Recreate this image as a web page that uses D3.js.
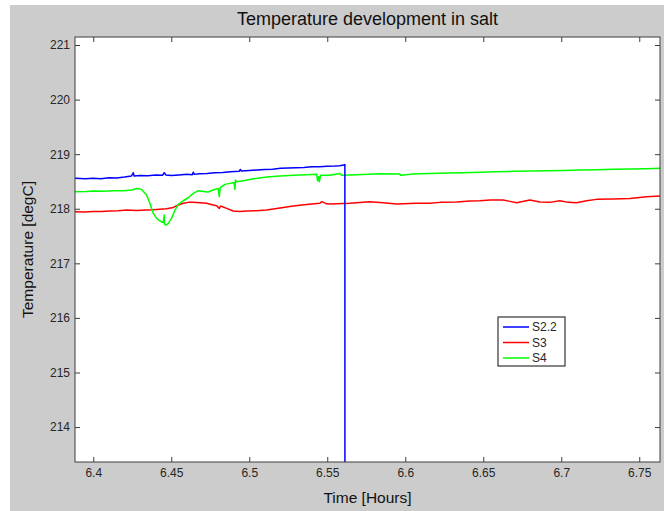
<!DOCTYPE html>
<html>
<head>
<meta charset="utf-8">
<script src="https://cdn.jsdelivr.net/npm/d3@7/dist/d3.min.js"></script>
<style>
  html, body { margin: 0; padding: 0; background: #ffffff; }
  svg { display: block; }
  text { font-family: "Liberation Sans", Arial, sans-serif; }
</style>
</head>
<body>
<svg id="chart" width="664" height="511"></svg>
<script>
// ---- data -------------------------------------------------------------
const seriesNames = ["S2.2", "S3", "S4"];
const seriesColors = ["#0000ff", "#ff0000", "#00ff00"];

// S2.2: logging stops at ~6.561 h, last sample falls off-scale
const timeS22 = [6.388, 6.395, 6.400, 6.405, 6.410, 6.415, 6.420, 6.4245, 6.4256, 6.4262,
  6.430, 6.435, 6.440, 6.4445, 6.4455, 6.4465, 6.450, 6.455, 6.460, 6.4635, 6.4641, 6.4648,
  6.468, 6.473, 6.478, 6.483, 6.488, 6.4935, 6.4943, 6.495, 6.500, 6.505, 6.510, 6.515,
  6.520, 6.525, 6.530, 6.535, 6.540, 6.545, 6.550, 6.555, 6.558, 6.5605, 6.5613, 6.5614];
const tempS22 = [218.56, 218.55, 218.56, 218.55, 218.57, 218.565, 218.58, 218.60, 218.66, 218.60,
  218.61, 218.605, 218.62, 218.615, 218.66, 218.62, 218.61, 218.62, 218.63, 218.625, 218.67, 218.63,
  218.64, 218.645, 218.66, 218.665, 218.68, 218.685, 218.72, 218.69, 218.70, 218.71, 218.72, 218.725,
  218.74, 218.745, 218.75, 218.755, 218.77, 218.77, 218.78, 218.785, 218.79, 218.80, 218.81, 200.0];

const timeS3 = [6.388, 6.3947, 6.400, 6.4053, 6.4107, 6.4160, 6.4214, 6.4278, 6.4342, 6.4385,
  6.4427, 6.4470, 6.4513, 6.4545, 6.4577, 6.4609, 6.4641, 6.4684, 6.4726, 6.4769, 6.4791,
  6.4808, 6.4816, 6.4855, 6.4897, 6.4940, 6.4983, 6.5047, 6.5111, 6.5197, 6.5282, 6.5368,
  6.5453, 6.5465, 6.5496, 6.5517, 6.5645, 6.5773, 6.5859, 6.5944, 6.6073, 6.6158, 6.6222,
  6.6329, 6.6415, 6.6479, 6.6543, 6.6628, 6.6671, 6.6714, 6.6799, 6.6863, 6.6927, 6.6991,
  6.7045, 6.7098, 6.7162, 6.7226, 6.7333, 6.7440, 6.7547, 6.7633];
const tempS3 = [217.945, 217.94, 217.95, 217.952, 217.96, 217.965, 217.976, 217.97, 217.976, 217.98,
  217.99, 218.00, 218.025, 218.068, 218.10, 218.117, 218.117, 218.11, 218.10, 218.068, 218.056,
  218.007, 218.05, 218.007, 217.958, 217.952, 217.958, 217.965, 217.976, 218.013, 218.05, 218.08,
  218.10, 218.13, 218.09, 218.086, 218.10, 218.129, 218.11, 218.086, 218.10, 218.10, 218.117,
  218.123, 218.141, 218.147, 218.16, 218.16, 218.135, 218.111, 218.16, 218.123, 218.117, 218.147,
  218.117, 218.111, 218.147, 218.172, 218.178, 218.19, 218.221, 218.233];

const timeS4 = [6.388, 6.3957, 6.400, 6.4064, 6.4128, 6.4192, 6.4246, 6.4278, 6.4310, 6.4342,
  6.4363, 6.4385, 6.4406, 6.4427, 6.4449, 6.4455, 6.4457, 6.4466, 6.4481, 6.4502, 6.4524,
  6.4545, 6.4577, 6.4609, 6.4641, 6.4673, 6.4705, 6.4737, 6.4769, 6.4801, 6.4808, 6.4814,
  6.4844, 6.4876, 6.4902, 6.4908, 6.4912, 6.4919, 6.4962, 6.5026, 6.5111, 6.5197, 6.5282,
  6.5368, 6.5432, 6.5438, 6.5444, 6.5449, 6.5457, 6.5517, 6.5581, 6.5592, 6.5688, 6.5838,
  6.5966, 6.5970, 6.6051, 6.6158, 6.6265, 6.6372, 6.6479, 6.6585, 6.6692, 6.6799, 6.6906,
  6.7013, 6.7120, 6.7226, 6.7333, 6.7440, 6.7547, 6.7633];
const tempS4 = [218.312, 218.318, 218.325, 218.322, 218.331, 218.328, 218.343, 218.37, 218.355, 218.251,
  218.10, 217.915, 217.824, 217.775, 217.745, 217.885, 217.72, 217.702, 217.733, 217.824, 217.976,
  218.08, 218.147, 218.202, 218.282, 218.331, 218.318, 218.306, 218.343, 218.373, 218.221, 218.386,
  218.447, 218.465, 218.48, 218.355, 218.526, 218.496, 218.514, 218.55, 218.581, 218.60, 218.612,
  218.624, 218.63, 218.514, 218.587, 218.496, 218.612, 218.612, 218.648, 218.612, 218.624, 218.642,
  218.636, 218.612, 218.636, 218.648, 218.655, 218.661, 218.667, 218.679, 218.685, 218.691, 218.697,
  218.703, 218.709, 218.716, 218.722, 218.728, 218.734, 218.74];

const xTicks = [6.4, 6.45, 6.5, 6.55, 6.6, 6.65, 6.7, 6.75];
const yTicks = [214, 215, 216, 217, 218, 219, 220, 221];
const xDomain = [6.3883, 6.7633];
const yDomain = [213.36, 221.147];

const titleText = "Temperature development in salt";
const xLabelText = "Time [Hours]";
const yLabelText = "Temperature [degC]";

// ---- layout -----------------------------------------------------------
const svg = d3.select("#chart");
const W = 664, H = 511;
const plot = { left: 75, top: 37, right: 660, bottom: 462 };
const axisColor = "#3c3c3c";
const textColor = "#262626";

// figure background
svg.append("rect").attr("x", 10).attr("y", 5).attr("width", W - 10).attr("height", H - 5)
  .attr("fill", "#cccccc");

const x = d3.scaleLinear().domain(xDomain).range([plot.left, plot.right]);
const y = d3.scaleLinear().domain(yDomain).range([plot.bottom, plot.top]);

// axes area
svg.append("rect")
  .attr("x", plot.left).attr("y", plot.top)
  .attr("width", plot.right - plot.left).attr("height", plot.bottom - plot.top)
  .attr("fill", "#ffffff");

svg.append("clipPath").attr("id", "plotClip")
  .append("rect")
  .attr("x", plot.left).attr("y", plot.top)
  .attr("width", plot.right - plot.left).attr("height", plot.bottom - plot.top);

// series lines
const series = [
  { name: seriesNames[0], color: seriesColors[0], t: timeS22, v: tempS22 },
  { name: seriesNames[1], color: seriesColors[1], t: timeS3, v: tempS3 },
  { name: seriesNames[2], color: seriesColors[2], t: timeS4, v: tempS4 }
];
const line = d3.line().x(d => x(d[0])).y(d => y(d[1]));
const lineG = svg.append("g").attr("clip-path", "url(#plotClip)");
// draw in order S3, S4, S2.2 so the blue trace sits on top
[1, 2, 0].forEach(i => {
  const s = series[i];
  lineG.append("path")
    .datum(s.t.map((t, k) => [t, s.v[k]]))
    .attr("d", line)
    .attr("fill", "none")
    .attr("stroke", s.color)
    .attr("stroke-width", 1.5)
    .attr("stroke-linejoin", "round");
});

// axes with inward ticks on all four sides
function styleAxis(g) {
  g.selectAll(".domain").remove();
  g.selectAll(".tick line").attr("stroke", axisColor).attr("stroke-width", 1);
  g.selectAll(".tick text").attr("fill", textColor)
    .style("font-family", '"Liberation Sans", Arial, sans-serif').style("font-size", "12px");
}
svg.append("g").attr("transform", `translate(0,${plot.bottom})`)
  .call(d3.axisBottom(x).tickValues(xTicks).tickFormat(d => String(d)).tickSize(-5).tickPadding(6))
  .call(styleAxis);
svg.append("g").attr("transform", `translate(0,${plot.top})`)
  .call(d3.axisTop(x).tickValues(xTicks).tickFormat("").tickSize(-5))
  .call(styleAxis);
svg.append("g").attr("transform", `translate(${plot.left},0)`)
  .call(d3.axisLeft(y).tickValues(yTicks).tickFormat(d => String(d)).tickSize(-5).tickPadding(5))
  .call(styleAxis);
svg.append("g").attr("transform", `translate(${plot.right},0)`)
  .call(d3.axisRight(y).tickValues(yTicks).tickFormat("").tickSize(-5))
  .call(styleAxis);

// axes box
svg.append("rect")
  .attr("x", plot.left).attr("y", plot.top)
  .attr("width", plot.right - plot.left).attr("height", plot.bottom - plot.top)
  .attr("fill", "none").attr("stroke", axisColor).attr("stroke-width", 1);

// title and axis labels
const cx = (plot.left + plot.right) / 2;
const cy = (plot.top + plot.bottom) / 2;
svg.append("text").attr("x", cx).attr("y", 25)
  .attr("text-anchor", "middle").attr("fill", "#111")
  .style("font-size", "18px").text(titleText);
svg.append("text").attr("x", cx).attr("y", 503)
  .attr("text-anchor", "middle").attr("fill", "#111")
  .style("font-size", "15.5px").text(xLabelText);
svg.append("text")
  .attr("transform", `translate(33,${cy}) rotate(-90)`)
  .attr("text-anchor", "middle").attr("fill", "#111")
  .style("font-size", "15.5px").text(yLabelText);

// legend
const legend = svg.append("g").attr("transform", "translate(498,317)");
legend.append("rect").attr("width", 67).attr("height", 49)
  .attr("fill", "#ffffff").attr("stroke", "#333333").attr("stroke-width", 1.2);
series.forEach((s, i) => {
  const ly = 10 + i * 15.5;
  legend.append("line").attr("x1", 5).attr("x2", 31).attr("y1", ly).attr("y2", ly)
    .attr("stroke", s.color).attr("stroke-width", 1.5);
  legend.append("text").attr("x", 34).attr("y", ly).attr("dy", "0.35em")
    .attr("fill", textColor).style("font-size", "12px").text(s.name);
});
</script>
</body>
</html>
